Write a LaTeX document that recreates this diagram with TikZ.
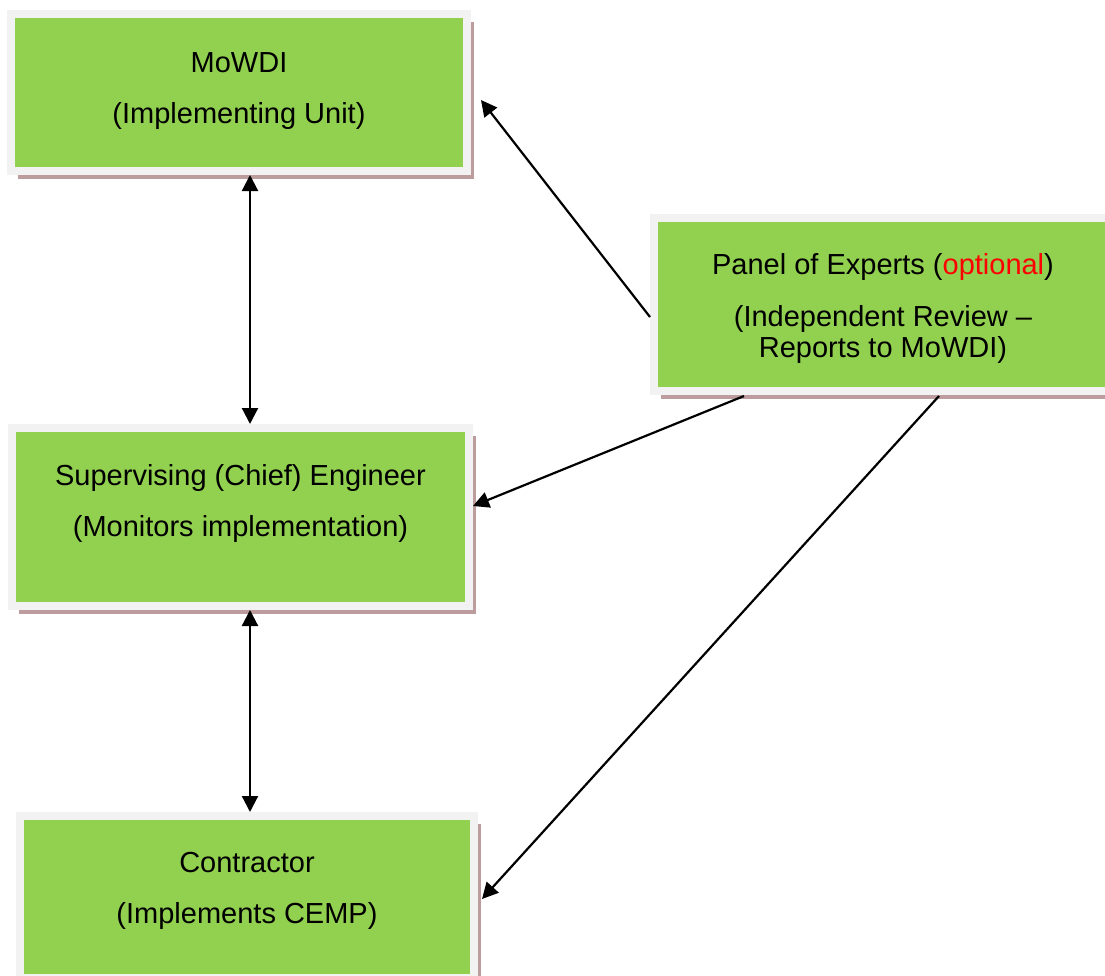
\documentclass[tikz,border=0pt]{standalone}
\usepackage{fontspec}
\setmainfont{Liberation Sans}
\usepackage{tikz}
\usetikzlibrary{arrows.meta,shadows}
\definecolor{boxgreen}{HTML}{92D050}
\definecolor{framegray}{HTML}{F2F2F2}
\definecolor{shadowbrown}{HTML}{BC9C9C}
\tikzset{
    every node/.style={font=\fontsize{14.5pt}{15.5pt}\selectfont, align=center}
}
\tikzset{
    box/.style={rectangle, fill=boxgreen, draw=framegray, line width=4pt,
    	inner sep=0pt, drop shadow={shadow xshift=3.5pt, shadow yshift=-4pt,
    	fill=shadowbrown, opacity=1}}
}
\tikzset{
    arr/.style={line width=1.1pt, -{Triangle[length=8pt,width=8pt]}},
    dblarr/.style={line width=1.1pt, {Triangle[length=8pt,width=8pt]}-{Triangle[length=8pt,width=8pt]}}
}

\begin{document}
\begin{tikzpicture}[x=0.5pt,y=-0.5pt]
  \useasboundingbox (0,0) rectangle (1105,976);
  \node (mowdi) [box, minimum width=228pt, minimum height=78.5pt,
    label={[name=mowdiT, yshift=0.5pt]center:MoWDI\\[10pt](Implementing Unit)}]
    at (239,92.5) {};
  \node (sup) [box, minimum width=228.5pt, minimum height=89pt,
    label={[name=supT, yshift=7pt]center:Supervising (Chief) Engineer\\[10pt](Monitors implementation)}]
    at (240.5,517) {};
  \node (cont) [box, minimum width=227pt, minimum height=81pt,
    label={[name=contT, yshift=3pt]center:Contractor\\[10pt](Implements CEMP)}]
    at (247,897) {};
  \node (panel) [box, minimum width=229pt, minimum height=86.5pt,
    label={[name=panelT, yshift=-2pt]center:Panel of Experts ({\color{red}optional})\\[10.5pt](Independent Review --\\Reports to MoWDI)}]
    at (883,304.5) {};

  \draw [dblarr] ([xshift=5.5pt]mowdi.south) -- ([xshift=4.75pt]sup.north);
  \draw [dblarr] ([xshift=4.75pt]sup.south) -- ([xshift=1.5pt]cont.north);
  \draw [arr] ([shift={(0,12.5)}]panel.west) -- ([shift={(10,7.5)}]mowdi.east);
  \draw [arr] ([shift={(-139,1)}]panel.south) -- ([shift={(0,-11)}]sup.east);
  \draw [arr] ([shift={(56,1)}]panel.south) -- ([shift={(4,2)}]cont.east);
\end{tikzpicture}
\end{document}
